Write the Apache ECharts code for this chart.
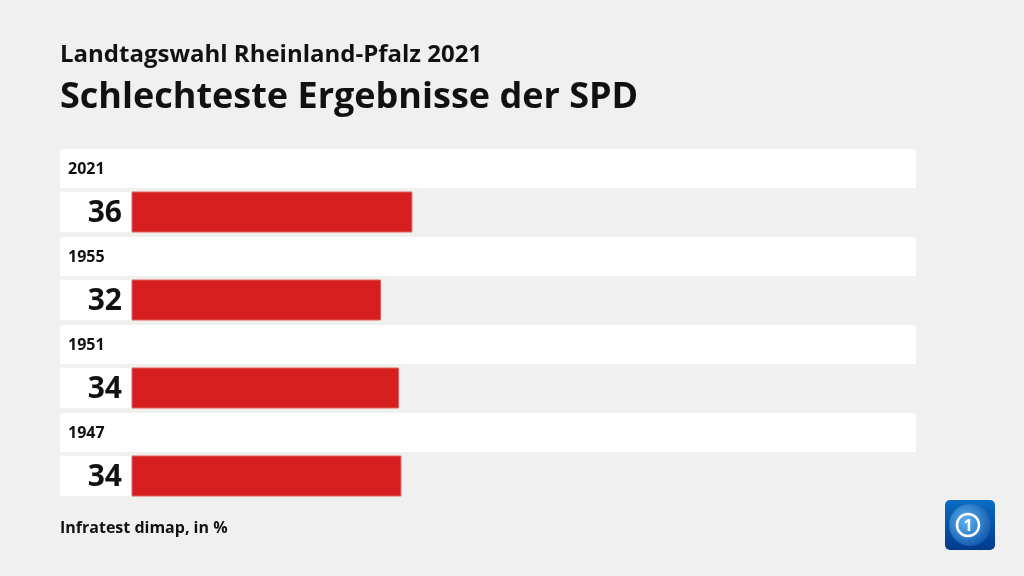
<!DOCTYPE html>
<html>
<head>
<meta charset="utf-8">
<script src="https://cdn.jsdelivr.net/npm/echarts@6/dist/echarts.min.js"></script>
<style>
html,body{margin:0;padding:0;background:#f0f0f0;}
#chart{width:1024px;height:576px;}
</style>
</head>
<body>
<div id="chart"></div>
<script>
const categories = ['2021', '1955', '1951', '1947'];
const values = [35.7, 31.7, 34.0, 34.3];
const valueLabels = ['36', '32', '34', '34'];
const supTitle = 'Landtagswahl Rheinland-Pfalz 2021';
const mainTitle = 'Schlechteste Ergebnisse der SPD';
const sourceText = 'Infratest dimap, in %';

const FONT = 'Open Sans';
const chart = echarts.init(document.getElementById('chart'), null, {renderer: 'canvas'});

const option = {
  backgroundColor: '#f0f0f0',
  animation: false,
  title: [
    {text: supTitle, left: 55, top: 38, textStyle: {fontFamily: FONT, fontSize: 24, fontWeight: 'bold', color: '#111'}},
    {text: mainTitle, left: 55, top: 75, textStyle: {fontFamily: FONT, fontSize: 36, fontWeight: 'bold', color: '#111'}},
    {text: sourceText, left: 55, top: 515, textStyle: {fontFamily: FONT, fontSize: 16, fontWeight: 'bold', color: '#111'}}
  ],
  grid: {left: 132, right: 108, top: 149, height: 352},
  xAxis: {type: 'value', min: 0, max: 100, show: false},
  yAxis: {type: 'category', data: categories, inverse: true, show: false},
  series: [{
    type: 'custom',
    encode: {x: 0, y: 1},
    data: values.map((v, i) => [v, i]),
    renderItem: function (params, api) {
      const idx = api.value(1);
      const p0 = api.coord([0, idx]);
      const p1 = api.coord([api.value(0), idx]);
      const band = api.size([0, 1])[1];
      const top = p0[1] - band / 2;
      const cs = params.coordSys;
      const boxLeft = cs.x - 72;
      return {
        type: 'group',
        children: [
          {type: 'rect', shape: {x: boxLeft, y: top, width: cs.width + 72, height: 39}, style: {fill: '#ffffff'}},
          {type: 'text', style: {x: boxLeft + 8, y: top + 20, text: categories[idx], fontFamily: FONT, fontSize: 16, fontWeight: 'bold', fill: '#111', verticalAlign: 'middle', align: 'left'}},
          {type: 'rect', shape: {x: boxLeft, y: top + 43, width: 72, height: 40}, style: {fill: '#ffffff'}},
          {type: 'text', style: {x: cs.x - 10, y: top + 64, text: valueLabels[idx], fontFamily: FONT, fontSize: 30, fontWeight: 'bold', fill: '#111', verticalAlign: 'middle', align: 'right'}},
          {type: 'rect', shape: {x: p0[0], y: top + 43, width: p1[0] - p0[0], height: 40}, style: {fill: '#d71f1f', stroke: '#e06060', lineWidth: 1}}
        ]
      };
    }
  }],
  graphic: [
    {type: 'rect', left: 945, top: 500, shape: {width: 50, height: 50, r: 5},
     style: {fill: new echarts.graphic.LinearGradient(0, 0, 0, 1, [{offset: 0, color: '#0b6cc4'}, {offset: 1, color: '#003a8c'}])}},
    {type: 'circle', shape: {cx: 970, cy: 525, r: 21},
     style: {fill: new echarts.graphic.RadialGradient(0.4, 0.4, 0.7, [{offset: 0, color: '#5fb4f0'}, {offset: 1, color: '#0a4fa8'}])}},
    {type: 'circle', shape: {cx: 968, cy: 525, r: 11}, style: {fill: 'none', stroke: '#ffffff', lineWidth: 2.5}},
    {type: 'text', style: {x: 968, y: 526, text: '1', fontFamily: FONT, fontSize: 16, fontWeight: 'bold', fill: '#ffffff', align: 'center', verticalAlign: 'middle'}}
  ]
};
chart.setOption(option);
</script>
</body>
</html>
